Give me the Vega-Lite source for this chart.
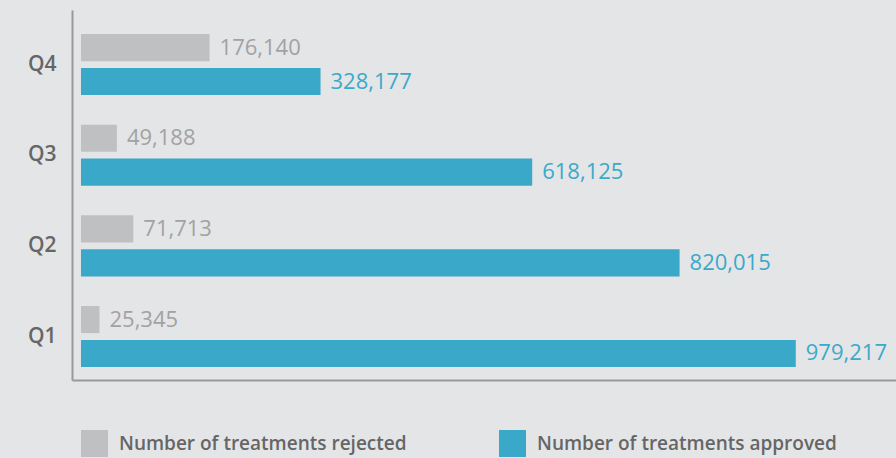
{
  "$schema": "https://vega.github.io/schema/vega-lite/v6.json",
  "width": 824,
  "height": 370,
  "autosize": {"type": "none"},
  "padding": {"left": 72, "top": 10, "right": 0, "bottom": 78},
  "background": "#e4e5e7",
  "config": {
    "view": {"stroke": null},
    "font": "Open Sans"
  },
  "data": {
    "values": [
      {"quarter": "Q4", "series": "Number of treatments rejected", "value": 176140, "label": "176,140"},
      {"quarter": "Q4", "series": "Number of treatments approved", "value": 328177, "label": "328,177"},
      {"quarter": "Q3", "series": "Number of treatments rejected", "value": 49188, "label": "49,188"},
      {"quarter": "Q3", "series": "Number of treatments approved", "value": 618125, "label": "618,125"},
      {"quarter": "Q2", "series": "Number of treatments rejected", "value": 71713, "label": "71,713"},
      {"quarter": "Q2", "series": "Number of treatments approved", "value": 820015, "label": "820,015"},
      {"quarter": "Q1", "series": "Number of treatments rejected", "value": 25345, "label": "25,345"},
      {"quarter": "Q1", "series": "Number of treatments approved", "value": 979217, "label": "979,217"}
    ]
  },
  "encoding": {
    "y": {
      "field": "quarter",
      "type": "nominal",
      "sort": ["Q4", "Q3", "Q2", "Q1"],
      "scale": {"paddingInner": 0.327, "paddingOuter": 0.204, "align": 0.65},
      "axis": {
        "title": null,
        "ticks": false,
        "domainColor": "#999999",
        "domainWidth": 2,
        "labelFont": "Open Sans",
        "labelFontSize": 21,
        "labelFontWeight": 600,
        "labelColor": "#666666",
        "labelPadding": 16
      }
    },
    "yOffset": {
      "field": "series",
      "type": "nominal",
      "sort": ["Number of treatments rejected", "Number of treatments approved"],
      "scale": {"paddingInner": 0.2, "paddingOuter": 0}
    },
    "x": {
      "field": "value",
      "type": "quantitative",
      "scale": {"domain": [-12300, 1116500], "nice": false, "zero": false},
      "axis": {
        "title": null,
        "labels": false,
        "ticks": false,
        "grid": false,
        "domainColor": "#999999",
        "domainWidth": 2
      }
    }
  },
  "layer": [
    {
      "mark": {"type": "bar"},
      "encoding": {
        "color": {
          "field": "series",
          "type": "nominal",
          "sort": ["Number of treatments rejected", "Number of treatments approved"],
          "scale": {
            "domain": ["Number of treatments rejected", "Number of treatments approved"],
            "range": ["#bfc0c2", "#3aa8c8"]
          },
          "legend": {
            "title": null,
            "orient": "none",
            "legendX": 9,
            "legendY": 420,
            "direction": "horizontal",
            "symbolType": "square",
            "symbolSize": 729,
            "symbolStrokeWidth": 0,
            "labelFont": "Open Sans",
            "labelFontSize": 19,
            "labelFontWeight": 600,
            "labelColor": "#666666",
            "labelOffset": 11,
            "columnPadding": 92,
            "labelLimit": 400
          }
        }
      }
    },
    {
      "mark": {"type": "text", "align": "left", "baseline": "middle", "dx": 10, "fontSize": 22, "font": "Open Sans"},
      "encoding": {
        "text": {"field": "label"},
        "color": {
          "condition": {"test": "datum.series === 'Number of treatments rejected'", "value": "#a2a2a2"},
          "value": "#3ba9c9"
        }
      }
    }
  ]
}
